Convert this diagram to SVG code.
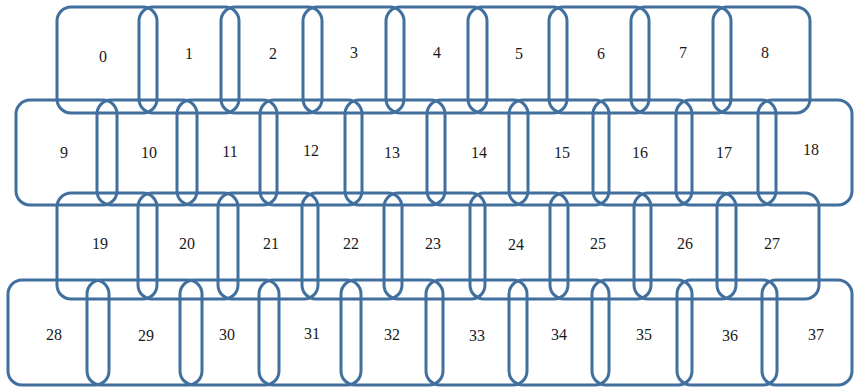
<svg xmlns="http://www.w3.org/2000/svg" width="854" height="388" viewBox="0 0 854 388">
<style>
.c rect{fill:none;stroke:#41709e;stroke-width:3;}
.c text{font-family:"Liberation Serif","Times New Roman",serif;font-size:16px;fill:#1a1a1a;text-anchor:middle;}
</style>
<rect width="854" height="388" fill="#ffffff"/>
<g class="c">
<g id="n0"><rect x="57" y="7" width="100" height="106" rx="14"/><text x="103" y="62">0</text></g>
<g id="n1"><rect x="139" y="7" width="100" height="106" rx="14"/><text x="189" y="59">1</text></g>
<g id="n2"><rect x="221" y="7" width="101" height="106" rx="14"/><text x="273" y="59">2</text></g>
<g id="n3"><rect x="303" y="7" width="101" height="106" rx="14"/><text x="354" y="58">3</text></g>
<g id="n4"><rect x="386" y="7" width="101" height="106" rx="14"/><text x="437" y="58">4</text></g>
<g id="n5"><rect x="468" y="7" width="99" height="106" rx="14"/><text x="519" y="59">5</text></g>
<g id="n6"><rect x="549" y="7" width="100" height="106" rx="14"/><text x="601" y="59">6</text></g>
<g id="n7"><rect x="631" y="7" width="100" height="106" rx="14"/><text x="683" y="58">7</text></g>
<g id="n8"><rect x="713" y="7" width="97" height="106" rx="14"/><text x="765" y="58">8</text></g>

<g id="n9"><rect x="16" y="100" width="101" height="105" rx="14"/><text x="64" y="158">9</text></g>
<g id="n10"><rect x="97" y="100" width="100" height="105" rx="14"/><text x="149" y="158">10</text></g>
<g id="n11"><rect x="177" y="100" width="100" height="105" rx="14"/><text x="230" y="157">11</text></g>
<g id="n12"><rect x="260" y="100" width="102" height="105" rx="14"/><text x="311" y="156">12</text></g>
<g id="n13"><rect x="345" y="100" width="100" height="105" rx="14"/><text x="392" y="158">13</text></g>
<g id="n14"><rect x="427" y="100" width="101" height="105" rx="14"/><text x="479" y="158">14</text></g>
<g id="n15"><rect x="509" y="100" width="100" height="105" rx="14"/><text x="562" y="158">15</text></g>
<g id="n16"><rect x="593" y="100" width="99" height="105" rx="14"/><text x="640" y="158">16</text></g>
<g id="n17"><rect x="676" y="100" width="100" height="105" rx="14"/><text x="724" y="158">17</text></g>
<g id="n18"><rect x="758" y="100" width="94" height="105" rx="14"/><text x="811" y="155">18</text></g>

<g id="n19"><rect x="57" y="193" width="100" height="106" rx="14"/><text x="100" y="249">19</text></g>
<g id="n20"><rect x="138" y="193" width="100" height="106" rx="14"/><text x="187" y="249">20</text></g>
<g id="n21"><rect x="218" y="193" width="100" height="106" rx="14"/><text x="271" y="249">21</text></g>
<g id="n22"><rect x="302" y="193" width="100" height="106" rx="14"/><text x="351" y="249">22</text></g>
<g id="n23"><rect x="384" y="193" width="101" height="106" rx="14"/><text x="433" y="249">23</text></g>
<g id="n24"><rect x="470" y="193" width="98" height="106" rx="14"/><text x="516" y="250">24</text></g>
<g id="n25"><rect x="550" y="193" width="101" height="106" rx="14"/><text x="598" y="249">25</text></g>
<g id="n26"><rect x="634" y="193" width="102" height="106" rx="14"/><text x="685" y="249">26</text></g>
<g id="n27"><rect x="717" y="193" width="102" height="106" rx="14"/><text x="772" y="249">27</text></g>

<g id="n28"><rect x="8" y="280" width="101" height="105" rx="14"/><text x="54" y="340">28</text></g>
<g id="n29"><rect x="87" y="280" width="115" height="105" rx="14"/><text x="146" y="341">29</text></g>
<g id="n30"><rect x="180" y="280" width="99" height="105" rx="14"/><text x="227" y="340">30</text></g>
<g id="n31"><rect x="259" y="280" width="102" height="105" rx="14"/><text x="312" y="339">31</text></g>
<g id="n32"><rect x="341" y="280" width="102" height="105" rx="14"/><text x="392" y="340">32</text></g>
<g id="n33"><rect x="426" y="280" width="101" height="105" rx="14"/><text x="477" y="341">33</text></g>
<g id="n34"><rect x="509" y="280" width="100" height="105" rx="14"/><text x="559" y="340">34</text></g>
<g id="n35"><rect x="592" y="280" width="100" height="105" rx="14"/><text x="644" y="340">35</text></g>
<g id="n36"><rect x="677" y="280" width="100" height="105" rx="14"/><text x="730" y="341">36</text></g>
<g id="n37"><rect x="762" y="280" width="90" height="105" rx="14"/><text x="816" y="340">37</text></g>
</g>
<g id="connectors"></g>
</svg>
